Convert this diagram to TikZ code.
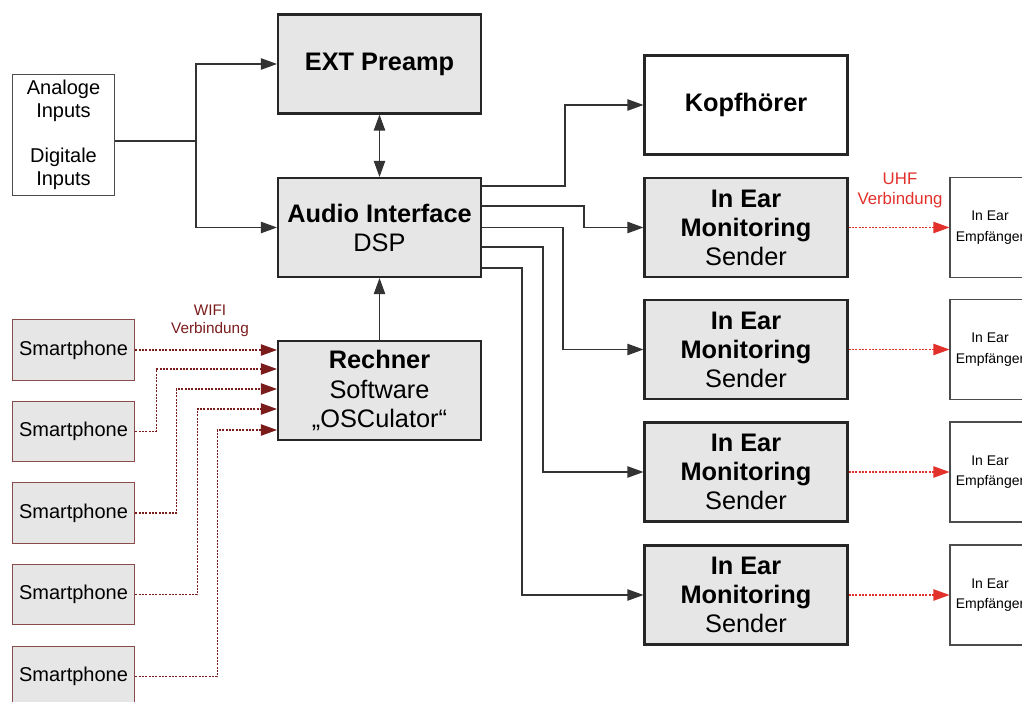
\documentclass[tikz,border=0pt]{standalone}
\usepackage{fontspec}
\setmainfont{Liberation Sans}
\usetikzlibrary{arrows.meta,calc}

\definecolor{boxgray}{HTML}{E6E6E6}
\definecolor{wifired}{HTML}{7B1C1C}
\definecolor{uhfred}{HTML}{E2302B}
\definecolor{phoneedge}{HTML}{8A4B4B}

\begin{document}
\begin{tikzpicture}[x=0.75pt, y=-0.75pt,
    big/.style={shape=rectangle, draw=black!85, line width=1.8pt, minimum width=152pt, minimum height=74pt, align=center, font=\fontsize{19}{21.8}\selectfont},
    graybox/.style={big, fill=boxgray},
    phone/.style={shape=rectangle, draw=phoneedge, line width=0.8pt, fill=boxgray, minimum width=92pt, minimum height=45.5pt, font=\fontsize{15}{17}\selectfont},
    recv/.style={shape=rectangle, draw=black!70, line width=0.8pt, fill=white, minimum width=60pt, minimum height=75pt, align=center, font=\fontsize{10.5}{15.5}\selectfont},
    wire/.style={draw=black!80, line width=0.9pt},
    tip/.style={-{Triangle[length=12pt, width=8.5pt]}},
    wifi/.style={draw=wifired, line width=0.8pt, dash pattern=on 1.5pt off 1pt, -{Triangle[length=12pt, width=8.5pt]}, {Triangle[length=12pt, width=8.5pt]}-},
    uhf/.style={draw=uhfred, line width=0.8pt, dash pattern=on 1.5pt off 1pt, -{Triangle[length=12pt, width=8.5pt]}}
]
    \useasboundingbox (0,0) rectangle (1022,702);
    \clip (0,0) rectangle (1022,702);

    % main chain
    \node[shape=rectangle, draw=black!70, line width=0.9pt, minimum width=76pt, minimum height=90.5pt, align=center, font=\fontsize{15}{17}\selectfont] (in) at (63.5,135) {Analoge\\Inputs\\[17pt]Digitale\\Inputs};
    \node[graybox] (pre) at (379.5,64) {\textbf{EXT Preamp}};
    \node[graybox] (audio) at (379.5,227.5) {\textbf{Audio Interface}\\DSP};
    \node[graybox] (rech) at (379.5,390.5) {\textbf{Rechner}\\Software\\„OSCulator“};

    % outputs
    \node[big, fill=white] (kopf) at (746,105) {\textbf{Kopfhörer}};
    \node[graybox] (s1) at (746,227.5) {\textbf{In Ear}\\\textbf{Monitoring}\\Sender};
    \node[graybox] (s2) at (746,349.5) {\textbf{In Ear}\\\textbf{Monitoring}\\Sender};
    \node[graybox] (s3) at (746,472) {\textbf{In Ear}\\\textbf{Monitoring}\\Sender};
    \node[graybox] (s4) at (746,595) {\textbf{In Ear}\\\textbf{Monitoring}\\Sender};

    \node[recv] (e1) at (990,227.5) {In Ear\\Empfänger};
    \node[recv] (e2) at (990,349.5) {In Ear\\Empfänger};
    \node[recv] (e3) at (990,472) {In Ear\\Empfänger};
    \node[recv] (e4) at (990,595) {In Ear\\Empfänger};

    % smartphones
    \node[phone] (ph1) at (73.5,350) {Smartphone};
    \node[phone] (ph2) at (73.5,431.5) {Smartphone};
    \node[phone] (ph3) at (73.5,513) {Smartphone};
    \node[phone] (ph4) at (73.5,594.5) {Smartphone};
    \node[phone] (ph5) at (73.5,676.5) {Smartphone};

    % inputs to preamp and interface
    \coordinate (split) at (196,141);
    \draw[wire] (in.east |- split) -- (split);
    \draw[wire, tip] (split) |- (pre.west);
    \draw[wire, tip] (split) |- (audio.west);
    \draw[wire, {Triangle[length=12pt, width=8.5pt]}-{Triangle[length=12pt, width=8.5pt]}] (pre) -- (audio);
    \draw[wire, tip] (rech) -- (audio);

    % interface to outputs
    \draw[wire, tip] ($(audio.east)+(0,-41.5)$) -- ++(83,0) |- (kopf.west);
    \draw[wire, tip] ($(audio.east)+(0,-21.5)$) -- ++(102,0) |- (s1.west);
    \draw[wire, tip] (audio.east) -- ++(81,0) |- (s2.west);
    \draw[wire, tip] ($(audio.east)+(0,19.5)$) -- ++(61,0) |- (s3.west);
    \draw[wire, tip] ($(audio.east)+(0,40.5)$) -- ++(40,0) |- (s4.west);

    % radio links
    \draw[uhf] (s1) -- (e1);
    \draw[uhf] (s2) -- (e2);
    \draw[uhf] (s3) -- (e3);
    \draw[uhf] (s4) -- (e4);
    \node[text=uhfred, align=center, font=\fontsize{12.6}{14.3}\selectfont] (uhflabel) at (900,190.5) {UHF\\Verbindung};

    % wifi links
    \draw[uhf, draw=wifired] (ph1.east) -- (ph1.east -| rech.west);
    \draw[uhf, draw=wifired] (ph2.east) -- ++(21,0) |- ($(rech.west)+(0,-21.5)$);
    \draw[uhf, draw=wifired] (ph3.east) -- ++(41,0) |- ($(rech.west)+(0,-1.5)$);
    \draw[uhf, draw=wifired] (ph4.east) -- ++(62,0) |- ($(rech.west)+(0,18.5)$);
    \draw[uhf, draw=wifired] (ph5.east) -- ++(82,0) |- ($(rech.west)+(0,39.5)$);
    \node[text=wifired, align=center, font=\fontsize{11.5}{13.5}\selectfont] (wifilabel) at (210,321) {WIFI\\Verbindung};
\end{tikzpicture}
\end{document}
